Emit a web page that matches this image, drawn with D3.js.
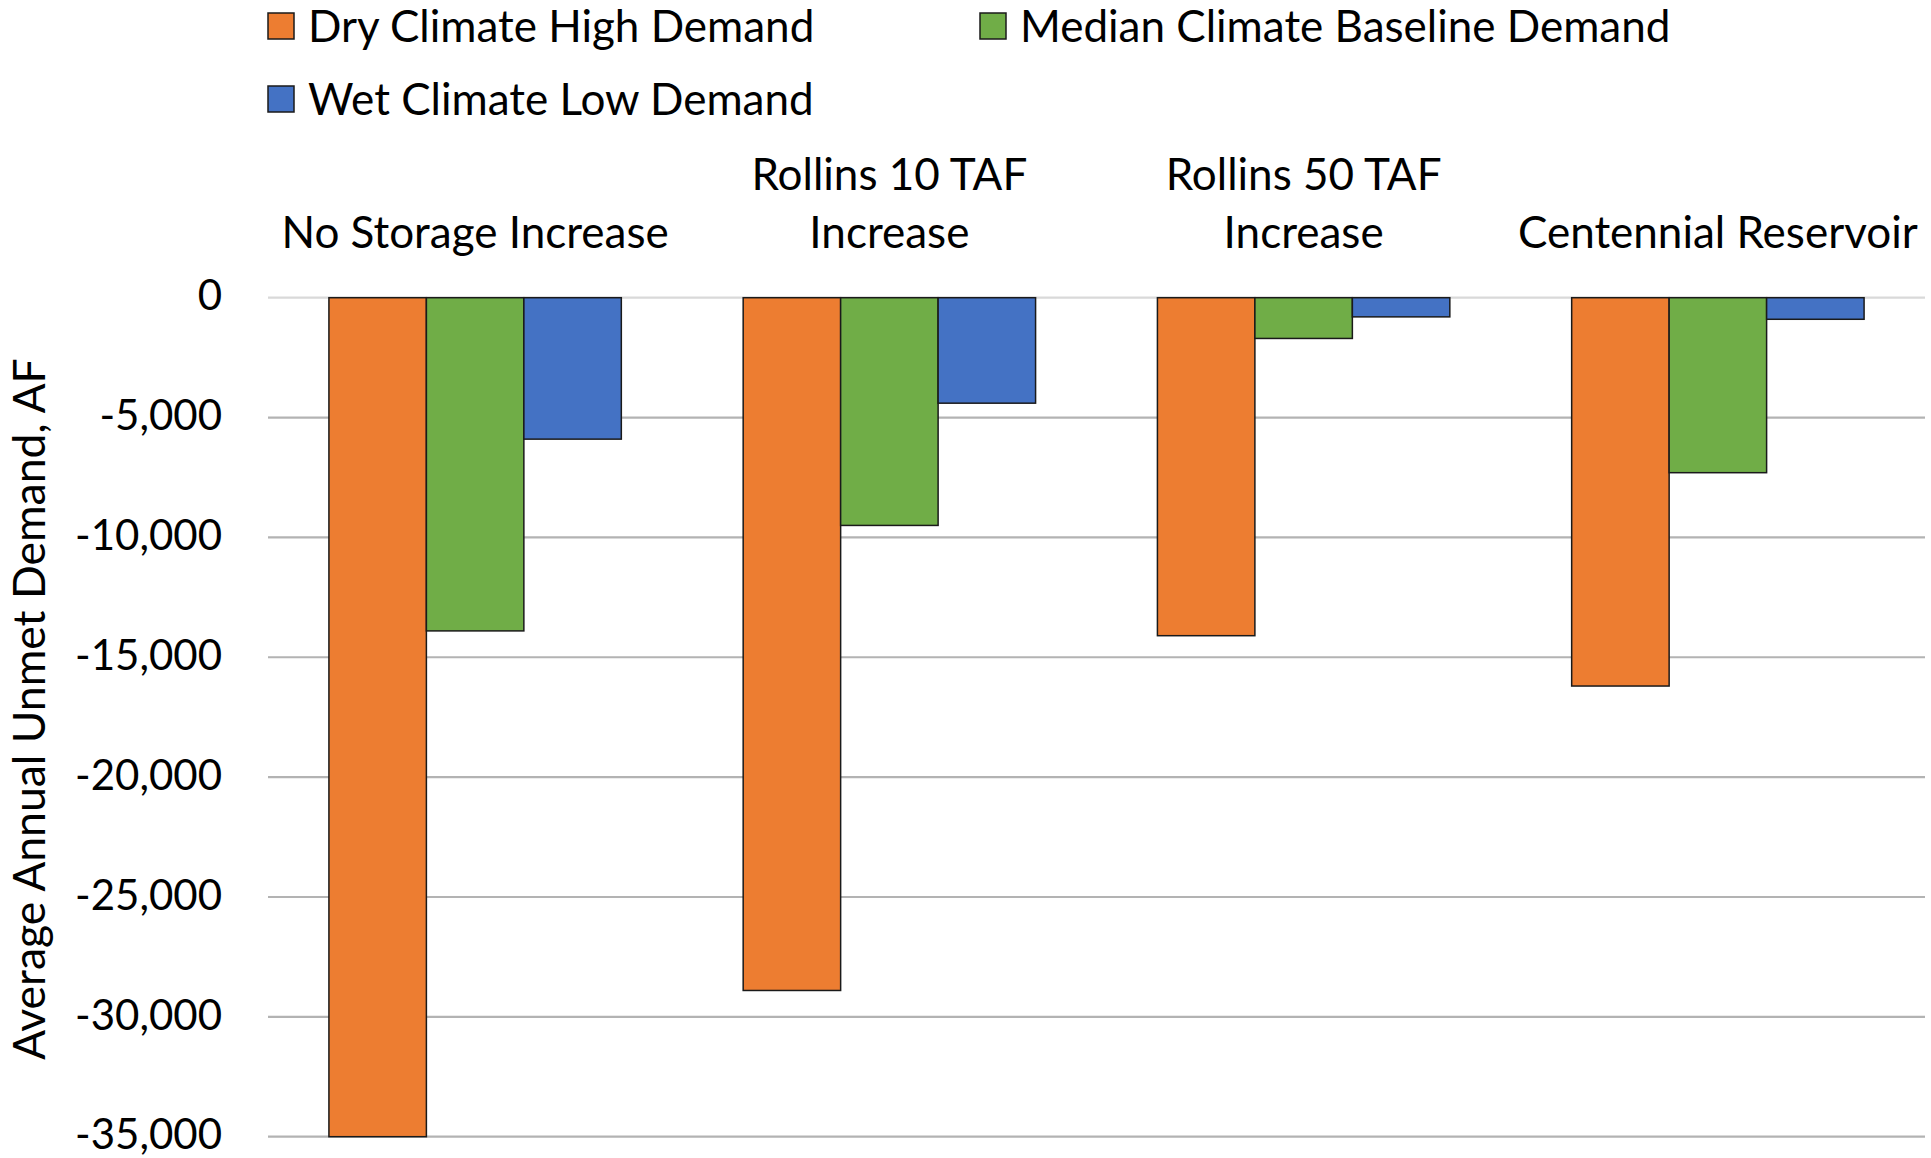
<!DOCTYPE html>
<html>
<head>
<meta charset="utf-8">
<script src="https://cdn.jsdelivr.net/npm/d3@7"></script>
<style>
  html, body { margin: 0; padding: 0; background: #fff; }
  svg text { font-family: Lato, "Liberation Sans", sans-serif; fill: #000; }
</style>
</head>
<body>
<svg id="chart" width="1931" height="1158"></svg>
<script>
// Scenario categories (each label split into lines)
const categories = [
  ["No Storage Increase"],
  ["Rollins 10 TAF", "Increase"],
  ["Rollins 50 TAF", "Increase"],
  ["Centennial Reservoir"]
];
const seriesNames = [
  "Dry Climate High Demand",
  "Median Climate Baseline Demand",
  "Wet Climate Low Demand"
];
const seriesColors = ["#ED7D31", "#70AD47", "#4472C4"];

// Average annual unmet demand (AF) per series, one value per category
const dryHigh = [-35000, -28900, -14100, -16200];
const medianBaseline = [-13900, -9500, -1700, -7300];
const wetLow = [-5900, -4400, -800, -900];

const yTicks = [0, -5000, -10000, -15000, -20000, -25000, -30000, -35000];

const series = [dryHigh, medianBaseline, wetLow];

const svg = d3.select("#chart");
const plot = { left: 268, right: 1925, top: 297.7, bottom: 1136.7 };

const x = d3.scaleBand()
  .domain(d3.range(categories.length))
  .range([plot.left, plot.right])
  .padding(0);

// gap between groups is 1.25 bar widths
const barW = x.bandwidth() / (seriesNames.length + 1.25);

const xs = d3.scaleBand()
  .domain(d3.range(seriesNames.length))
  .range([0, barW * seriesNames.length]);

const y = d3.scaleLinear()
  .domain([-35000, 0])
  .range([plot.bottom, plot.top]);

// Gridlines
svg.append("g")
  .selectAll("line")
  .data(yTicks)
  .join("line")
  .attr("x1", plot.left)
  .attr("x2", plot.right)
  .attr("y1", d => y(d))
  .attr("y2", d => y(d))
  .attr("stroke", d => d === 0 ? "#d9d9d9" : "#b3b3b3")
  .attr("stroke-width", 2.2);

// Y axis tick labels
const yAxis = d3.axisLeft(y)
  .tickValues(yTicks)
  .tickSize(0)
  .tickPadding(0)
  .tickFormat(d3.format(",d"));

const yAxisG = svg.append("g")
  .attr("transform", `translate(222,0)`)
  .call(yAxis);
yAxisG.select(".domain").remove();
yAxisG.selectAll("text")
  .attr("font-size", 42)
  .attr("font-family", "Lato, sans-serif")
  .attr("fill", "#000")
  .attr("dy", "0.29em")
  .text(d => d3.format(",d")(d).replace("−", "-"));

// Bars
const groups = svg.append("g")
  .selectAll("g")
  .data(categories.map((c, i) => i))
  .join("g")
  .attr("transform", i => `translate(${x(i) + (x.bandwidth() - barW * seriesNames.length) / 2},0)`);

groups.selectAll("rect")
  .data(i => series.map((s, k) => ({ k, v: s[i] })))
  .join("rect")
  .attr("x", d => xs(d.k))
  .attr("width", xs.bandwidth())
  .attr("y", y(0))
  .attr("height", d => y(d.v) - y(0))
  .attr("fill", d => seriesColors[d.k])
  .attr("stroke", "#1a1a1a")
  .attr("stroke-width", 1.5);

// Category labels above the plot
const catLabels = svg.append("g")
  .selectAll("text")
  .data(categories.map((c, i) => ({ c, i })))
  .join("text")
  .attr("text-anchor", "middle")
  .attr("font-size", 44)
  .attr("x", d => x(d.i) + x.bandwidth() / 2);

catLabels.selectAll("tspan")
  .data(d => d.c.map((line, j) => ({ line, j, n: d.c.length, cx: x(d.i) + x.bandwidth() / 2 })))
  .join("tspan")
  .attr("x", d => d.cx)
  .attr("y", d => 248 - (d.n - 1 - d.j) * 58)
  .text(d => d.line);

// Legend
const legendPos = [
  { x: 268, y: 42 },
  { x: 980, y: 42 },
  { x: 268, y: 115 }
];
const legend = svg.append("g")
  .selectAll("g")
  .data(seriesNames.map((name, k) => ({ name, k })))
  .join("g")
  .attr("transform", d => `translate(${legendPos[d.k].x},${legendPos[d.k].y})`);

legend.append("rect")
  .attr("x", 0)
  .attr("y", -29)
  .attr("width", 26)
  .attr("height", 26)
  .attr("fill", d => seriesColors[d.k])
  .attr("stroke", "#1a1a1a")
  .attr("stroke-width", 1.5);

legend.append("text")
  .attr("x", 40)
  .attr("y", 0)
  .attr("font-size", 44)
  .text(d => d.name);

// Y axis title
svg.append("text")
  .attr("transform", `translate(44.5,${(plot.top + plot.bottom) / 2 - 8}) rotate(-90)`)
  .attr("text-anchor", "middle")
  .attr("font-size", 44.5)
  .text("Average Annual Unmet Demand, AF");
</script>
</body>
</html>
